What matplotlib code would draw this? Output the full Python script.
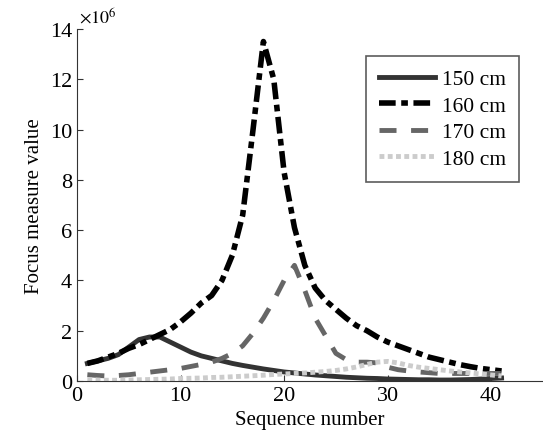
import numpy as np
import matplotlib.pyplot as plt

plt.rcParams['font.family'] = ['Liberation Serif', 'DejaVu Serif']
plt.rcParams['mathtext.fontset'] = 'stix'

seq = np.arange(1, 42)

# focus measure values (x 1e6)
f150 = [0.7, 0.8, 0.9, 1.05, 1.35, 1.65, 1.75, 1.75, 1.55, 1.35,
        1.15, 1.0, 0.9, 0.8, 0.7, 0.62, 0.55, 0.48, 0.42, 0.36,
        0.32, 0.28, 0.24, 0.21, 0.18, 0.15, 0.13, 0.11, 0.1, 0.08,
        0.07, 0.06, 0.05, 0.05, 0.04, 0.04, 0.05, 0.06, 0.08, 0.1, 0.12]
f160 = [0.7, 0.8, 0.95, 1.1, 1.3, 1.45, 1.65, 1.85, 2.05, 2.35,
        2.7, 3.1, 3.4, 4.0, 5.0, 6.6, 10.0, 13.5, 12.0, 8.3,
        6.1, 4.6, 3.7, 3.2, 2.85, 2.5, 2.2, 2.0, 1.75, 1.55,
        1.4, 1.25, 1.1, 0.95, 0.85, 0.75, 0.65, 0.57, 0.5, 0.45, 0.4]
f170 = [0.25, 0.22, 0.2, 0.22, 0.25, 0.3, 0.35, 0.4, 0.45, 0.5,
        0.58, 0.66, 0.75, 0.9, 1.1, 1.4, 1.9, 2.5, 3.2, 4.0,
        4.6, 3.6, 2.5, 1.8, 1.1, 0.85, 0.75, 0.75, 0.72, 0.55,
        0.45, 0.4, 0.36, 0.33, 0.3, 0.3, 0.3, 0.3, 0.3, 0.3, 0.3]
f180 = [0.05, 0.04, 0.03, 0.03, 0.04, 0.05, 0.06, 0.07, 0.08, 0.1,
        0.11, 0.12, 0.14, 0.15, 0.17, 0.19, 0.21, 0.23, 0.26, 0.28,
        0.3, 0.32, 0.35, 0.38, 0.42, 0.48, 0.56, 0.66, 0.75, 0.78,
        0.72, 0.62, 0.55, 0.5, 0.45, 0.4, 0.36, 0.32, 0.28, 0.24, 0.2]

labels = ['150 cm', '160 cm', '170 cm', '180 cm']

fig = plt.figure(figsize=(5.43, 4.39), dpi=100)
ax = fig.add_axes([0.1418, 0.1298, 0.8582, 0.802])

ax.plot(seq, np.array(f150) * 1e6, color='#333333', lw=3.5, ls='-', label=labels[0])
ax.plot(seq, np.array(f160) * 1e6, color='black', lw=4, ls=(0, (3, 1, 1.2, 1)), label=labels[1])
ax.plot(seq, np.array(f170) * 1e6, color='#666666', lw=3.5, ls=(0, (3.5, 3)), label=labels[2])
ax.plot(seq, np.array(f180) * 1e6, color='#cccccc', lw=3.5, ls=(0, (1, 0.7)), label=labels[3])

ax.set_xlim(0, 45)
ax.set_ylim(0, 14e6)
ax.set_xticks([0, 10, 20, 30, 40])
ax.set_yticks(np.arange(0, 15, 2) * 1e6)
ax.set_yticklabels([str(v) for v in range(0, 15, 2)])
ax.text(0.005, 1.008, r'$\times10^6$', transform=ax.transAxes, fontsize=13, ha='left', va='bottom')

for s in ['top', 'right']:
    ax.spines[s].set_visible(False)
ax.spines['left'].set_color('#333333')
ax.spines['bottom'].set_color('#333333')
ax.tick_params(direction='in', labelsize=16, length=4, color='#333333')

ax.set_xlabel('Sequence number', fontsize=15)
ax.set_ylabel('Focus measure value', fontsize=15)

leg = ax.legend(loc='upper right', bbox_to_anchor=(0.971, 0.953), fontsize=15.5,
                fancybox=False, edgecolor='#333333', handlelength=2.6,
                handletextpad=0.3, labelspacing=0.3, borderpad=0.6)
leg.get_frame().set_linewidth(1.2)

fig.savefig('out.png', dpi=100)
